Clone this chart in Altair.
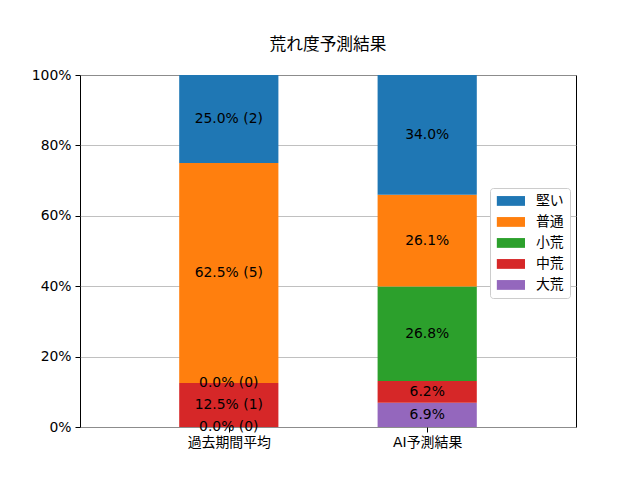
import altair as alt
import pandas as pd

groups = ["過去期間平均", "AI予測結果"]
categories = ["大荒", "中荒", "小荒", "普通", "堅い"]  # bottom -> top
legend_order = ["堅い", "普通", "小荒", "中荒", "大荒"]
colors = ["#1f77b4", "#ff7f0e", "#2ca02c", "#d62728", "#9467bd"]  # for legend_order
past_pct = [0.0, 12.5, 0.0, 62.5, 25.0]
past_cnt = [0, 1, 0, 5, 2]
ai_pct = [6.9, 6.2, 26.8, 26.1, 34.0]

rows = []
for gi, (g, pcts) in enumerate(zip(groups, [past_pct, ai_pct])):
    base = 0.0
    for ci, c in enumerate(categories):
        v = pcts[ci] / 100.0
        if gi == 0:
            lab = f"{pcts[ci]:.1f}% ({past_cnt[ci]})"
        else:
            lab = f"{pcts[ci]:.1f}%"
        rows.append(dict(group=g, gx=gi, x0=gi - 0.25, x1=gi + 0.25,
                         cat=c, y0=base, y1=base + v, ym=base + v / 2, label=lab))
        base += v
df = pd.DataFrame(rows)

FONT = "DejaVu Sans, Noto Sans CJK JP"
FS = 13.9

xscale = alt.Scale(domain=[-0.75, 1.75], nice=False, zero=False)
yscale = alt.Scale(domain=[0, 1], nice=False)

bars = alt.Chart(df).mark_rect().encode(
    x=alt.X("x0:Q", scale=xscale,
            axis=alt.Axis(values=[0, 1], title=None, grid=False,
                          labelExpr="datum.value == 0 ? '過去期間平均' : 'AI予測結果'",
                          tickSize=5, tickColor="black", domain=False,
                          labelColor="black", labelFontSize=FS, labelFont=FONT,
                          labelPadding=3)),
    x2="x1:Q",
    y=alt.Y("y0:Q", scale=yscale,
            axis=alt.Axis(values=[0, 0.2, 0.4, 0.6, 0.8, 1.0], format=".0%", title=None,
                          grid=True, gridColor="#b0b0b0", gridWidth=0.8,
                          tickSize=5, tickColor="black", domain=False,
                          labelColor="black", labelFontSize=FS, labelFont=FONT,
                          labelPadding=4)),
    y2="y1:Q",
    color=alt.Color("cat:N", scale=alt.Scale(domain=legend_order, range=colors),
                    legend=alt.Legend(title=None, orient="none", legendX=410, legendY=113,
                                      symbolType="M-1,-0.8H3.6V0.8H-1Z",
                                      symbolSize=150, symbolStrokeWidth=0,
                                      labelFont=FONT, labelFontSize=FS, labelColor="black",
                                      rowPadding=6, padding=6,
                                      strokeColor="#cccccc", fillColor="white",
                                      cornerRadius=3, labelOffset=26)),
)

texts = alt.Chart(df).mark_text(font=FONT, fontSize=FS, color="black").encode(
    x=alt.X("gx:Q", scale=xscale),
    y=alt.Y("ym:Q", scale=yscale),
    text="label:N",
)

chart = (bars + texts).properties(
    width=496, height=352,
    title=alt.Title("荒れ度予測結果", font=FONT, fontSize=16.7, fontWeight="normal",
                    color="black", offset=14),
    autosize=alt.AutoSizeParams(type="none"),
    padding={"left": 72, "top": 67, "right": 56, "bottom": 45},
).configure_view(stroke="black", strokeWidth=1)

chart.save("out.html", embed_options={"renderer": "svg", "actions": False})
